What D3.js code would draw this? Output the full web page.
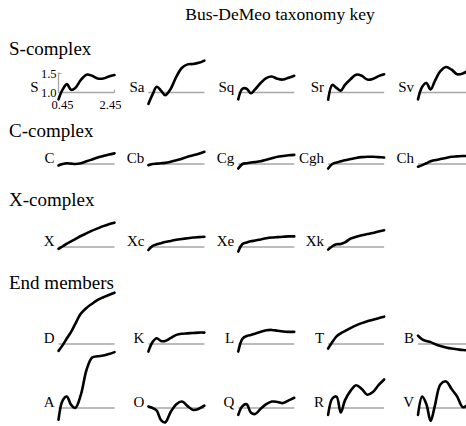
<!DOCTYPE html>
<html>
<head>
<meta charset="utf-8">
<script src="https://cdn.jsdelivr.net/npm/d3@7"></script>
<style>
  html, body { margin: 0; padding: 0; background: #fff; }
  svg text { font-family: "Liberation Serif", "Times New Roman", "DejaVu Serif", serif; }
</style>
</head>
<body>
<svg id="chart" width="466" height="426"></svg>
<script>
// ---------------- data ----------------
const titleText = "Bus-DeMeo taxonomy key";
const groupNames = ["S-complex", "C-complex", "X-complex", "End members"];
const wavelengths = [0.45, 0.6, 0.75, 0.9, 1.05, 1.25, 1.45, 1.65, 1.85, 2.05, 2.25, 2.45];
const yTickValues = [1.0, 1.5];
const yTickLabels = ["1.0", "1.5"];
const xTickValues = [0.45, 2.45];
const xTickLabels = ["0.45", "2.45"];

const sTypes = ["S", "Sa", "Sq", "Sr", "Sv"];
const sSpectra = [
  [0.82, 1.08, 1.22, 1.07, 1.12, 1.33, 1.47, 1.44, 1.37, 1.37, 1.42, 1.46],
  [0.70, 0.95, 1.15, 1.05, 0.93, 1.10, 1.42, 1.65, 1.74, 1.75, 1.78, 1.84],
  [0.82, 1.10, 1.10, 0.98, 1.08, 1.25, 1.38, 1.42, 1.36, 1.34, 1.39, 1.44],
  [0.81, 1.20, 1.12, 1.05, 1.20, 1.35, 1.47, 1.44, 1.34, 1.36, 1.43, 1.48],
  [0.82, 1.15, 1.25, 1.08, 1.30, 1.56, 1.67, 1.60, 1.48, 1.50, 1.58, 1.65]
];

const cTypes = ["C", "Cb", "Cg", "Cgh", "Ch"];
const cSpectra = [
  [0.96, 1.00, 1.02, 1.01, 1.00, 1.02, 1.07, 1.12, 1.17, 1.21, 1.25, 1.28],
  [0.97, 1.00, 1.01, 1.02, 1.03, 1.06, 1.10, 1.14, 1.19, 1.23, 1.27, 1.32],
  [0.88, 1.00, 1.02, 1.04, 1.05, 1.07, 1.11, 1.15, 1.19, 1.21, 1.23, 1.24],
  [0.88, 1.00, 1.04, 1.07, 1.10, 1.13, 1.16, 1.18, 1.19, 1.19, 1.18, 1.17],
  [0.93, 0.97, 1.02, 1.07, 1.10, 1.13, 1.16, 1.19, 1.20, 1.21, 1.21, 1.22]
];

const xTypes = ["X", "Xc", "Xe", "Xk"];
const xSpectra = [
  [0.95, 1.02, 1.09, 1.15, 1.21, 1.29, 1.36, 1.43, 1.49, 1.55, 1.60, 1.64],
  [0.92, 1.03, 1.07, 1.10, 1.13, 1.16, 1.19, 1.21, 1.23, 1.25, 1.26, 1.27],
  [0.88, 1.08, 1.12, 1.15, 1.17, 1.20, 1.23, 1.25, 1.26, 1.27, 1.28, 1.28],
  [0.93, 1.02, 1.07, 1.08, 1.12, 1.22, 1.27, 1.31, 1.34, 1.37, 1.41, 1.44]
];

const endTypesA = ["D", "K", "L", "T", "B"];
const endSpectraA = [
  [0.82, 0.97, 1.15, 1.32, 1.53, 1.80, 1.95, 2.06, 2.16, 2.23, 2.29, 2.35],
  [0.80, 1.05, 1.15, 1.08, 1.08, 1.16, 1.24, 1.27, 1.28, 1.29, 1.30, 1.30],
  [0.80, 1.14, 1.21, 1.24, 1.27, 1.32, 1.36, 1.37, 1.35, 1.33, 1.32, 1.32],
  [0.88, 1.05, 1.20, 1.28, 1.34, 1.42, 1.49, 1.55, 1.60, 1.64, 1.68, 1.72],
  [1.22, 1.12, 1.08, 1.05, 1.00, 0.95, 0.91, 0.88, 0.86, 0.84, 0.83, 0.82]
];

const endTypesB = ["A", "O", "Q", "R", "V"];
const endSpectraB = [
  [0.69, 1.20, 1.30, 1.08, 1.00, 1.35, 2.00, 2.33, 2.36, 2.38, 2.42, 2.47],
  [1.04, 1.00, 0.93, 0.68, 0.62, 0.90, 1.10, 1.17, 1.05, 0.95, 0.98, 1.06],
  [0.82, 1.05, 1.10, 0.88, 0.84, 0.98, 1.10, 1.17, 1.16, 1.13, 1.20, 1.27],
  [0.82, 1.25, 1.30, 0.88, 1.20, 1.45, 1.60, 1.50, 1.35, 1.42, 1.60, 1.75],
  [0.82, 1.30, 1.10, 0.66, 1.05, 1.62, 1.70, 1.50, 1.30, 1.02, 1.10, 1.35]
];

// ---------------- layout ----------------
const svg = d3.select("#chart");
const serif = "'Liberation Serif', 'Times New Roman', 'DejaVu Serif', serif";
const panelW = 56;          // px for 0.45..2.45 micron
const unitPx = 38;          // px per reflectance unit

const colX = d3.scaleLinear().domain([0, 4]).range([58.5, 418]);

const rows = [
  { types: sTypes, spectra: sSpectra, base: 92.5, axes: true },
  { types: cTypes, spectra: cSpectra, base: 164 },
  { types: xTypes, spectra: xSpectra, base: 247 },
  { types: endTypesA, spectra: endSpectraA, base: 344 },
  { types: endTypesB, spectra: endSpectraB, base: 408 }
];
const headerY = [55, 137, 206, 289];

// title
svg.append("text")
  .attr("x", 280).attr("y", 20)
  .attr("text-anchor", "middle")
  .attr("font-family", serif)
  .attr("font-size", 17.5)
  .attr("fill", "#000")
  .text(titleText);

// group headers
svg.selectAll("text.group")
  .data(groupNames)
  .join("text")
  .attr("class", "group")
  .attr("x", 9)
  .attr("y", (d, i) => headerY[i])
  .attr("font-family", serif)
  .attr("font-size", 19)
  .attr("fill", "#000")
  .text(d => d);

rows.forEach((row, ri) => {
  row.types.forEach((name, ci) => {
    const x0 = colX(ci);
    const xs = d3.scaleLinear().domain([0.45, 2.45]).range([x0, x0 + panelW]);
    const ys = d3.scaleLinear().domain([1.0, 2.0]).range([row.base, row.base - unitPx]);
    const g = svg.append("g");

    // baseline at reflectance 1.0
    g.append("line")
      .attr("x1", xs(0.45)).attr("x2", xs(2.45))
      .attr("y1", ys(1.0)).attr("y2", ys(1.0))
      .attr("stroke", "#a6a6a6").attr("stroke-width", 1.6);

    if (row.axes && ci === 0) {
      g.append("line")
        .attr("x1", xs(0.45)).attr("x2", xs(0.45))
        .attr("y1", ys(1.0)).attr("y2", ys(1.5) - 1)
        .attr("stroke", "#a6a6a6").attr("stroke-width", 1.3);
      g.append("line")
        .attr("x1", xs(0.45)).attr("x2", xs(0.45) + 3)
        .attr("y1", ys(1.5)).attr("y2", ys(1.5))
        .attr("stroke", "#a6a6a6").attr("stroke-width", 1.2);
      g.append("line")
        .attr("x1", xs(2.45)).attr("x2", xs(2.45))
        .attr("y1", ys(1.0)).attr("y2", ys(1.0) - 3)
        .attr("stroke", "#a6a6a6").attr("stroke-width", 1.2);
      g.selectAll("text.yt")
        .data(yTickValues)
        .join("text")
        .attr("class", "yt")
        .attr("x", xs(0.45) - 2)
        .attr("y", d => ys(d) + 4)
        .attr("text-anchor", "end")
        .attr("font-family", serif)
        .attr("font-size", 12.5)
        .attr("fill", "#000")
        .text((d, i) => yTickLabels[i]);
      g.selectAll("text.xt")
        .data(xTickValues)
        .join("text")
        .attr("class", "xt")
        .attr("x", (d, i) => xs(d) + (i === 0 ? 4 : -4))
        .attr("y", ys(1.0) + 16)
        .attr("text-anchor", "middle")
        .attr("font-family", serif)
        .attr("font-size", 12.5)
        .attr("fill", "#000")
        .text((d, i) => xTickLabels[i]);
    }

    // type label
    g.append("text")
      .attr("x", (row.axes && ci === 0) ? xs(0.45) - 20 : xs(0.45) - 4)
      .attr("y", ys(1.0) - 1)
      .attr("text-anchor", "end")
      .attr("font-family", serif)
      .attr("font-size", 15)
      .attr("fill", "#000")
      .text(name);

    // spectrum
    const line = d3.line()
      .x((d, i) => xs(wavelengths[i]))
      .y(d => ys(d))
      .curve(d3.curveCatmullRom.alpha(0.5));
    g.append("path")
      .datum(row.spectra[ci])
      .attr("d", line)
      .attr("fill", "none")
      .attr("stroke", "#000")
      .attr("stroke-width", 2.6)
      .attr("stroke-linecap", "round")
      .attr("stroke-linejoin", "round");
  });
});
</script>
</body>
</html>
